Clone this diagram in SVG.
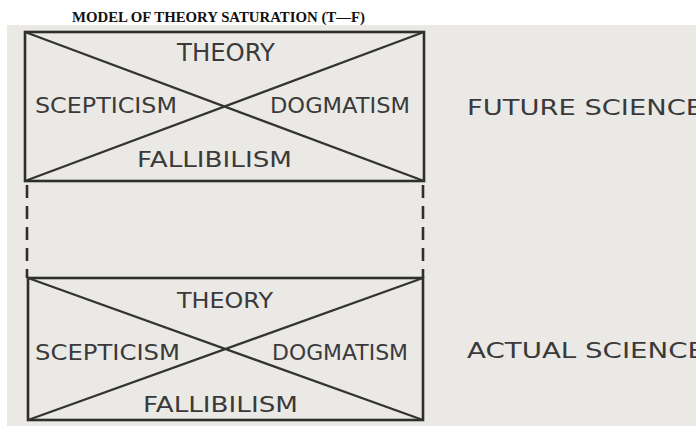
<svg xmlns="http://www.w3.org/2000/svg" width="696" height="426" viewBox="0 0 696 426">
<style>
.lbl{font-family:"DejaVu Sans","Liberation Sans",sans-serif;font-size:21px;fill:#3a3a3a}
.box{fill:none;stroke:#2e2e2e;stroke-width:2.6}
.diag{stroke:#333;stroke-width:2.2}
.dash{stroke:#2e2e2e;stroke-width:2.6;stroke-dasharray:13 8;fill:none}
.title{font-family:"Liberation Serif","Times New Roman",serif;font-weight:bold;font-size:15px;fill:#111}
</style>
<rect x="0" y="0" width="696" height="426" fill="#ffffff"/>
<rect x="7" y="25" width="689" height="401" fill="#ebe9e6"/>
<text class="title" x="72" y="22" textLength="293" lengthAdjust="spacingAndGlyphs">MODEL OF THEORY SATURATION (T—F)</text>
<g id="connectors">
<line class="dash" x1="27" y1="185" x2="27" y2="278"/>
<line class="dash" x1="423" y1="185" x2="423" y2="278"/>
</g>
<g id="future-box">
<rect class="box" x="25" y="32" width="399" height="149"/>
<line class="diag" x1="25" y1="32" x2="424" y2="181"/>
<line class="diag" x1="25" y1="181" x2="424" y2="32"/>
<text class="lbl" x="177" y="61" textLength="98" lengthAdjust="spacingAndGlyphs" style="font-size:24px">THEORY</text>
<text class="lbl" x="35" y="113" textLength="142" lengthAdjust="spacingAndGlyphs">SCEPTICISM</text>
<text class="lbl" x="270" y="113" textLength="140" lengthAdjust="spacingAndGlyphs">DOGMATISM</text>
<text class="lbl" x="137" y="167" textLength="155" lengthAdjust="spacingAndGlyphs">FALLIBILISM</text>
</g>
<g id="actual-box">
<rect class="box" x="28" y="278" width="395" height="142"/>
<line class="diag" x1="28" y1="278" x2="423" y2="420"/>
<line class="diag" x1="28" y1="420" x2="423" y2="278"/>
<text class="lbl" x="177" y="308" textLength="96" lengthAdjust="spacingAndGlyphs" style="font-size:22px">THEORY</text>
<text class="lbl" x="35" y="360" textLength="145" lengthAdjust="spacingAndGlyphs">SCEPTICISM</text>
<text class="lbl" x="272" y="360" textLength="136" lengthAdjust="spacingAndGlyphs">DOGMATISM</text>
<text class="lbl" x="143" y="412" textLength="155" lengthAdjust="spacingAndGlyphs">FALLIBILISM</text>
</g>
<g id="future-science">
<text class="lbl" x="467" y="115" textLength="236" lengthAdjust="spacingAndGlyphs">FUTURE SCIENCE</text>
</g>
<g id="actual-science">
<text class="lbl" x="467" y="358" textLength="238" lengthAdjust="spacingAndGlyphs">ACTUAL SCIENCE</text>
</g>
</svg>
